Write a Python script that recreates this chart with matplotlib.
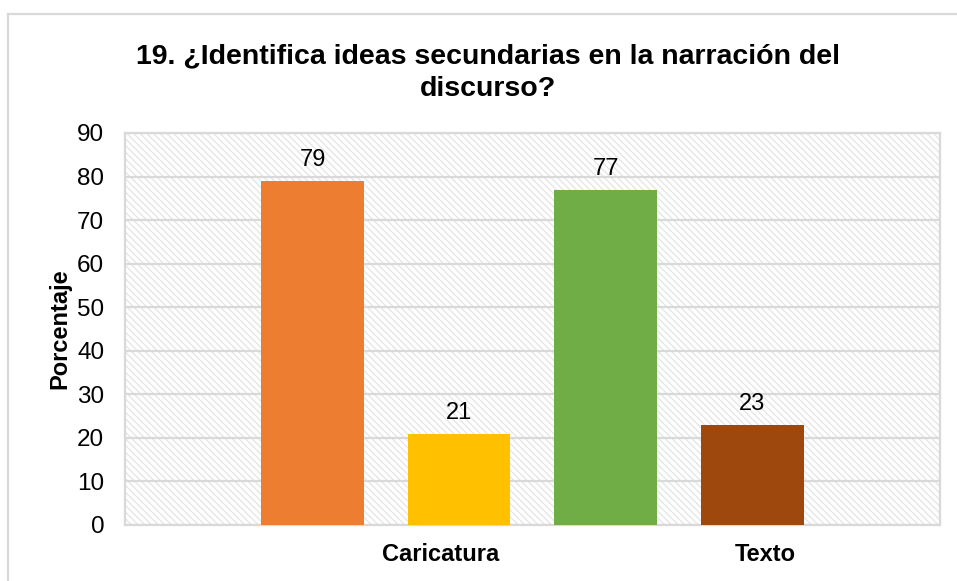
import matplotlib
matplotlib.use("Agg")
import matplotlib.pyplot as plt
from matplotlib.patches import Rectangle
from matplotlib.lines import Line2D

plt.rcParams['font.family'] = ['Liberation Sans', 'DejaVu Sans']

# Survey results (percent)
series_values = [79, 21, 77, 23]
series_colors = ["#ED7D31", "#FFC000", "#70AD47", "#9E480E"]
categories = ["Caricatura", "Texto"]
category_pos = [0.877, 3.089]
title = "19. ¿Identifica ideas secundarias en la narración del\ndiscurso?"

GRID = "#d9d9d9"

fig = plt.figure(figsize=(9.57, 5.81), dpi=100)
ax = fig.add_axes([0.1306, 0.0964, 0.8516, 0.6747])

# hatched plot background
plt.rcParams['hatch.linewidth'] = 0.9
bg = Rectangle((0, 0), 1, 1, transform=ax.transAxes, fill=False,
               hatch='\\\\\\\\\\', edgecolor="#e4e4e4", linewidth=0, zorder=0)
ax.add_patch(bg)

xs = range(len(series_values))
ax.bar(xs, series_values, width=0.703, color=series_colors, zorder=3)
for x, v in zip(xs, series_values):
    ax.annotate(str(v), (x, v), xytext=(0, 7), textcoords="offset points",
                ha="center", va="bottom", fontsize=17)

ax.set_xlim(-1.28, 4.283)
ax.set_ylim(0, 90)
ax.set_yticks(range(0, 91, 10))
ax.yaxis.grid(True, color=GRID, linewidth=1.6, zorder=1)
ax.set_axisbelow(True)
ax.tick_params(axis="y", length=0, pad=15, labelsize=17.5)
ax.set_xticks(category_pos)
ax.set_xticklabels(categories, fontweight="bold", fontsize=17)
ax.tick_params(axis="x", length=0, pad=13)
for s in ax.spines.values():
    s.set_color(GRID)
    s.set_linewidth(1.6)

ax.set_ylabel("Porcentaje", fontweight="bold", fontsize=17)
ax.yaxis.set_label_coords(-0.066, 0.5)

fig.text(0.51, 0.925, title, ha="center", va="top", fontsize=20.5,
         fontweight="bold", linespacing=1.3)

# chart frame
fig.add_artist(Line2D([8 / 957, 1], [1 - 14 / 581] * 2, color=GRID, lw=1.6))
fig.add_artist(Line2D([8 / 957] * 2, [0, 1 - 14 / 581], color=GRID, lw=1.6))

fig.savefig("out.png", dpi=100)
